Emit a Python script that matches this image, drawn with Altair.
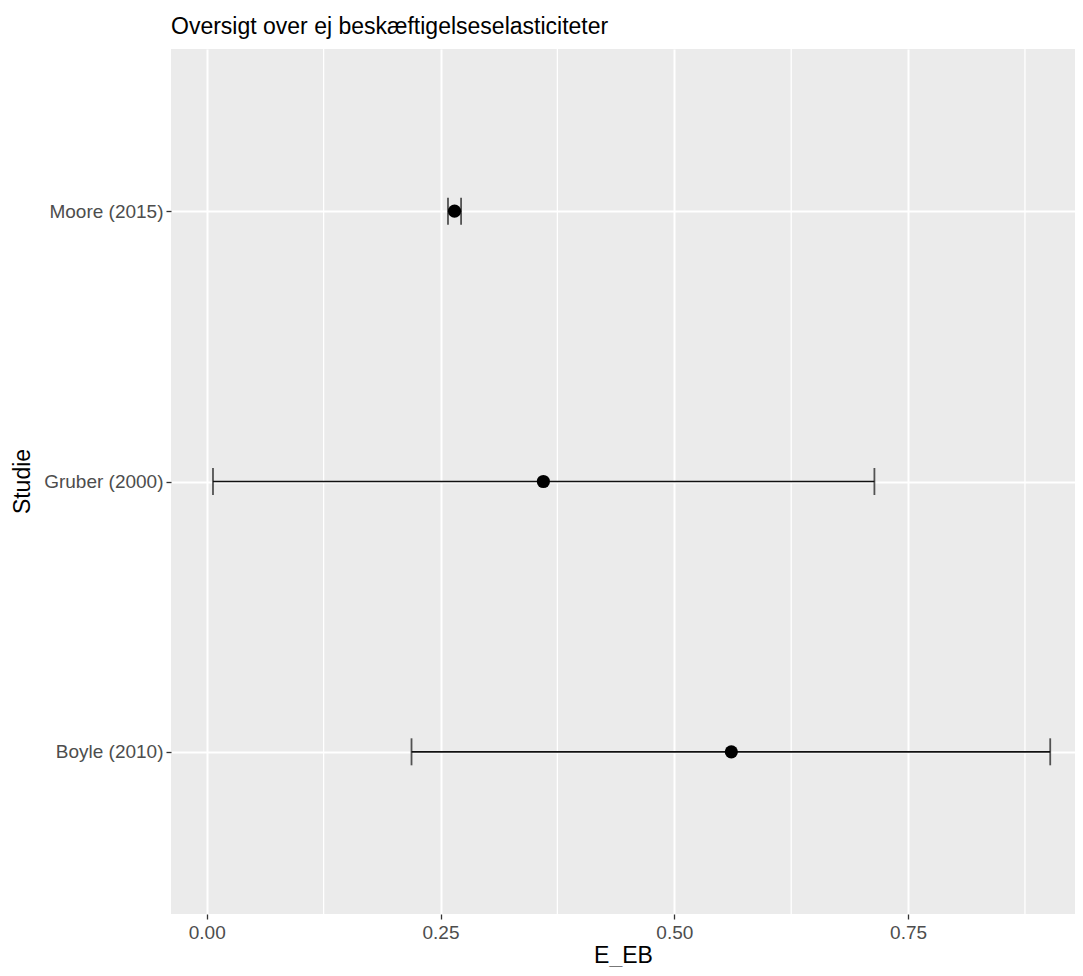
import altair as alt
import pandas as pd

studies = ["Moore (2015)", "Gruber (2000)", "Boyle (2010)"]
estimate = [0.265, 0.360, 0.561]
lower = [0.258, 0.0067, 0.219]
upper = [0.272, 0.714, 0.902]
major_ticks = [0.0, 0.25, 0.5, 0.75]
minor_ticks = [0.125, 0.375, 0.625, 0.875]

df = pd.DataFrame({"Studie": studies, "E_EB": estimate, "lo": lower, "hi": upper})
minor_df = pd.DataFrame({"m": minor_ticks})

FONT = "Liberation Sans"
xscale = alt.Scale(domain=[-0.0382, 0.9285], nice=False, zero=False)
yenc = alt.Y(
    "Studie:N",
    sort=studies,
    scale=alt.Scale(type="point", padding=0.6),
    axis=alt.Axis(
        title="Studie",
        titleX=-149,
        titleY=432,
        titleAngle=-90,
        titleBaseline="middle",
        titleAlign="center",
    ),
)

minor = alt.Chart(minor_df).mark_rule(color="white", strokeWidth=1.3).encode(
    x=alt.X("m:Q", scale=xscale)
)

xaxis = alt.Axis(
    title="E_EB",
    values=major_ticks,
    format=".2f",
    titleY=48,
    titleBaseline="alphabetic",
)

bars = alt.Chart(df).mark_rule(color="#111111", strokeWidth=1.7).encode(
    x=alt.X("lo:Q", scale=xscale, axis=xaxis),
    x2="hi:Q",
    y=yenc,
)
cap_lo = alt.Chart(df).mark_tick(color="#111111", thickness=1.8, size=27).encode(
    x=alt.X("lo:Q", scale=xscale), y=yenc
)
cap_hi = alt.Chart(df).mark_tick(color="#111111", thickness=1.8, size=27).encode(
    x=alt.X("hi:Q", scale=xscale), y=yenc
)
points = alt.Chart(df).mark_circle(color="black", opacity=1, size=175).encode(
    x=alt.X("E_EB:Q", scale=xscale), y=yenc
)

chart = (
    alt.layer(minor, bars, cap_lo, cap_hi, points)
    .properties(
        width=904,
        height=865,
        autosize=alt.AutoSizeParams(type="none"),
        padding={"left": 163, "top": 41, "right": 0, "bottom": 53},
        title=alt.TitleParams(
            "Oversigt over ej beskæftigelseselasticiteter",
            anchor="start",
            frame="group",
            font=FONT,
            fontSize=23,
            fontWeight="normal",
            color="black",
            baseline="alphabetic",
            offset=16,
            dy=25,
        ),
    )
    .configure_view(fill="#EBEBEB", stroke=None)
    .configure_axis(
        grid=True,
        gridColor="white",
        gridWidth=2,
        domain=False,
        labelFont=FONT,
        labelFontSize=19,
        labelColor="#4D4D4D",
        titleFont=FONT,
        titleFontSize=23,
        titleFontWeight="normal",
        titleColor="black",
        tickColor="#333333",
        tickWidth=1.3,
        tickSize=5,
        labelPadding=4,
    )
    .configure_axisY(labelPadding=3, tickSize=5)
)

chart.save("out.html", embed_options={"renderer": "svg", "actions": False})
